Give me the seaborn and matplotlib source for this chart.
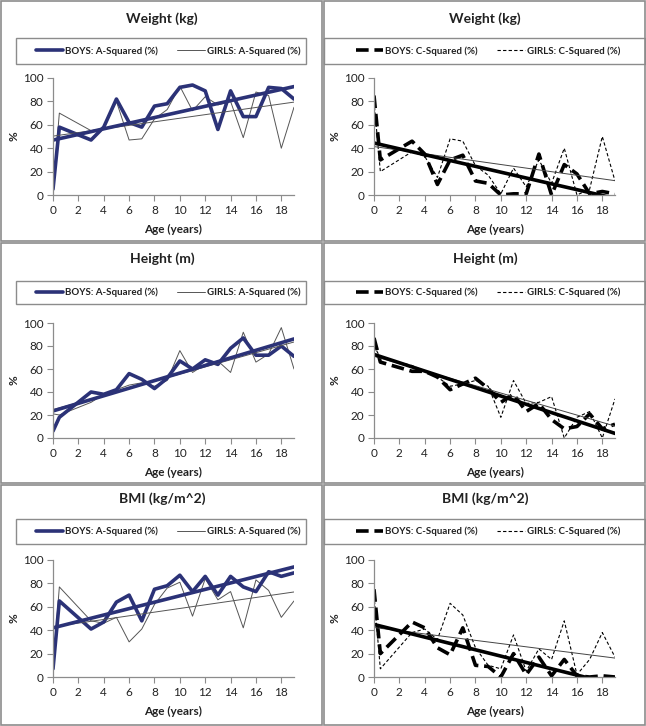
import numpy as np
import pandas as pd
import matplotlib
matplotlib.use('Agg')
import matplotlib.pyplot as plt
from matplotlib.patches import Rectangle
from matplotlib.lines import Line2D
import seaborn as sns

# ages (years) at which the percentages were reported
ages = [0, 0.5, 3, 4, 5, 6, 7, 8, 9, 10, 11, 12, 13, 14, 15, 16, 17, 18, 19]

weight_boys_a = [5, 58, 47, 58, 82, 62, 58, 76, 78, 92, 94, 89, 56, 89, 67, 67, 92, 91, 82]
weight_girls_a = [5, 70, 55, 57, 80, 47, 48, 65, 73, 93, 72, 84, 77, 80, 49, 88, 85, 40, 75]
weight_boys_c = [85, 30, 46, 35, 9, 30, 34, 12, 10, 0, 1, 1, 35, 0, 26, 18, 1, 3, 1]
weight_girls_c = [80, 20, 37, 33, 15, 48, 46, 25, 17, 1, 23, 7, 30, 10, 40, 0, 5, 50, 12]

height_boys_a = [6, 18, 40, 38, 42, 56, 51, 43, 52, 67, 60, 68, 64, 78, 87, 72, 72, 80, 71]
height_girls_a = [21, 20, 31, 38, 42, 46, 48, 45, 50, 76, 57, 64, 67, 57, 92, 66, 73, 96, 60]
height_boys_c = [87, 66, 58, 58, 53, 42, 47, 52, 43, 31, 38, 23, 30, 16, 8, 10, 21, 8, 12]
height_girls_c = [80, 70, 63, 58, 53, 45, 47, 50, 45, 18, 50, 30, 31, 36, 0, 18, 23, 0, 34]

bmi_boys_a = [7, 65, 41, 47, 64, 70, 48, 75, 78, 87, 73, 86, 70, 86, 77, 73, 90, 86, 89]
bmi_girls_a = [7, 77, 48, 46, 51, 30, 41, 62, 76, 81, 52, 84, 66, 73, 42, 83, 74, 51, 65]
bmi_boys_c = [75, 20, 47, 42, 25, 19, 42, 10, 9, 0, 20, 2, 17, 1, 15, 1, 0, 1, 0]
bmi_girls_c = [70, 7, 38, 41, 32, 63, 53, 25, 10, 7, 36, 5, 24, 15, 48, 2, 15, 38, 17]

titles = ['Weight (kg)', 'Height (m)', 'BMI (kg/m^2)']
labels_a = ['BOYS: A-Squared (%)', 'GIRLS: A-Squared (%)']
labels_c = ['BOYS: C-Squared (%)', 'GIRLS: C-Squared (%)']

sns.set_style('white')
plt.rcParams['font.family'] = ['Lato', 'DejaVu Sans']

W, H = 646, 726
fig = plt.figure(figsize=(W / 100, H / 100), dpi=100)

NAVY = '#2b3277'
GRAY = '#555555'
EDGE = '#8c8c8c'

# pixel layout of each row: (axes top, axes bottom, legend top, legend bottom, title y)
rows = [(78, 195, 38, 64, 19), (323, 438, 281, 304, 259), (560, 677, 519, 544, 499)]
cols = [(53, 294), (374, 615)]

data = [
    (weight_boys_a, weight_girls_a, weight_boys_c, weight_girls_c),
    (height_boys_a, height_girls_a, height_boys_c, height_girls_c),
    (bmi_boys_a, bmi_girls_a, bmi_boys_c, bmi_girls_c),
]


def fx(px):
    return px / W


def fy(py):
    return 1 - py / H


for r, (ax_top, ax_bot, lg_top, lg_bot, t_y) in enumerate(rows):
    for c, (ax_l, ax_r) in enumerate(cols):
        cell_x0 = c * 323
        cell_y0 = r * 242
        # cell border
        fig.patches.append(Rectangle((fx(cell_x0 + 1), fy(cell_y0 + 241)), fx(321), 240 / H,
                                     transform=fig.transFigure, fill=False,
                                     edgecolor=EDGE, lw=1.2))
        # legend box
        if c == 0:
            lx0, lx1 = cell_x0 + 16, cell_x0 + 306
            lg_cx = cell_x0 + 168
        else:
            lx0, lx1 = cell_x0 + 1, cell_x0 + 322
            lg_cx = cell_x0 + 165
        fig.patches.append(Rectangle((fx(lx0), fy(lg_bot)), fx(lx1 - lx0), (lg_bot - lg_top) / H,
                                     transform=fig.transFigure, fill=False,
                                     edgecolor=EDGE, lw=1.0))
        fig.text(fx(cell_x0 + 162), fy(t_y), titles[r], ha='center', va='center',
                 fontsize=10, fontweight='bold', color='#222222')

        ax = fig.add_axes([fx(ax_l), fy(ax_bot), fx(ax_r - ax_l), (ax_bot - ax_top) / H])
        boys, girls = (data[r][0], data[r][1]) if c == 0 else (data[r][2], data[r][3])
        df = pd.DataFrame({'age': ages, 'boys': boys, 'girls': girls})

        if c == 0:
            b_kw = dict(color=NAVY, lw=2.6)
            g_kw = dict(color=GRAY, lw=0.7)
            bt_color, gt_color = NAVY, GRAY
            labs = labels_a
        else:
            b_kw = dict(color='black', lw=2.6, dashes=(3.5, 1.6))
            g_kw = dict(color='black', lw=0.8, dashes=(3, 2))
            bt_color, gt_color = 'black', '#444444'
            labs = labels_c

        sns.lineplot(data=df, x='age', y='girls', ax=ax, color=g_kw['color'], lw=g_kw['lw'])
        if 'dashes' in g_kw:
            ax.lines[-1].set_dashes(g_kw['dashes'])
        sns.lineplot(data=df, x='age', y='boys', ax=ax, color=b_kw['color'], lw=b_kw['lw'])
        if 'dashes' in b_kw:
            ax.lines[-1].set_dashes(b_kw['dashes'])
        sns.regplot(data=df, x='age', y='girls', ax=ax, scatter=False, ci=None, truncate=True,
                    line_kws=dict(color=gt_color, lw=0.7))
        sns.regplot(data=df, x='age', y='boys', ax=ax, scatter=False, ci=None, truncate=True,
                    line_kws=dict(color=bt_color, lw=2.6))

        ax.set_xlim(0, 19)
        ax.set_ylim(0, 100)
        ax.set_xticks(range(0, 19, 2))
        ax.set_yticks(range(0, 101, 20))
        for s in ['top', 'right']:
            ax.spines[s].set_visible(False)
        for s in ['left', 'bottom']:
            ax.spines[s].set_color(EDGE)
            ax.spines[s].set_linewidth(0.9)
        ax.tick_params(axis='both', direction='out', length=4, width=0.8, color=EDGE,
                       labelsize=8.5, labelcolor='#222222', pad=3, left=True, bottom=True)
        ax.set_xlabel('Age (years)', fontsize=8.5, fontweight='bold', color='#222222', labelpad=6)
        ax.set_ylabel('%', fontsize=8.5, fontweight='bold', color='#222222', labelpad=2)
        ax.patch.set_alpha(0)

        handles = [Line2D([], [], **b_kw), Line2D([], [], **g_kw)]
        fig.legend(handles, labs, loc='center', ncol=2, frameon=False,
                   bbox_to_anchor=(fx(lg_cx), fy((lg_top + lg_bot) / 2)),
                   bbox_transform=fig.transFigure,
                   prop=dict(size=7, weight='bold'),
                   handlelength=2.8, columnspacing=2.0, handletextpad=0.2,
                   labelcolor='#222222')

fig.savefig('out.png', dpi=100)
